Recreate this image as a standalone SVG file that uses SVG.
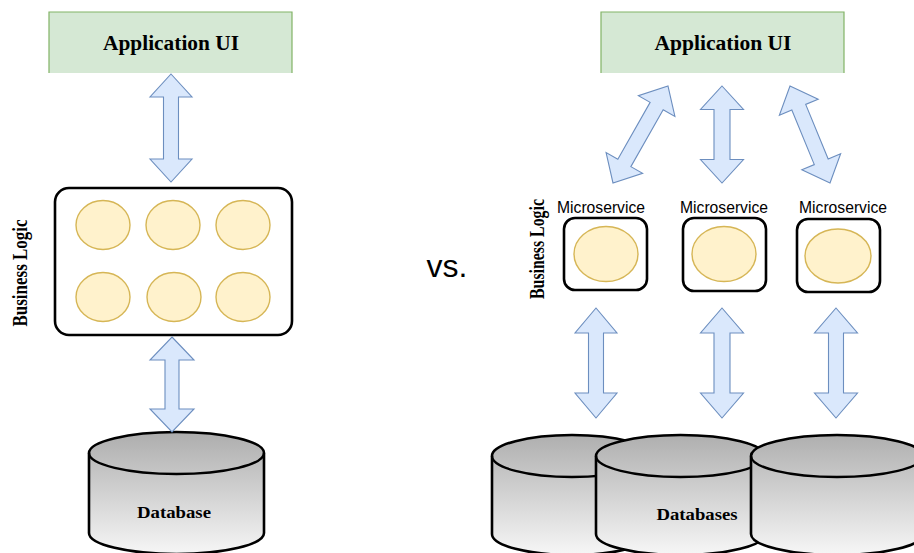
<svg xmlns="http://www.w3.org/2000/svg" width="914" height="553" viewBox="0 0 914 553">
  <style>
    .ui { fill: #d5e8d4; }
    .ui-edge { fill: none; stroke: #82b366; stroke-width: 1.2; }
    .title { font-family: "Liberation Serif", "Times New Roman", serif; font-weight: bold; fill: #000; text-anchor: middle; }
    .sans { font-family: "Liberation Sans", Arial, sans-serif; fill: #000; text-anchor: middle; }
    .frame { fill: #fff; stroke: #000; stroke-width: 2.6; }
    .svc { fill: #fff2cc; stroke: #d6b656; stroke-width: 1.4; }
    .arrow { fill: #dae8fc; stroke: #6c8ebf; stroke-width: 1.1; stroke-linejoin: miter; }
    .cyl { fill: url(#dbFill); stroke: #000; stroke-width: 2.6; }
    .rim { fill: none; stroke: #000; stroke-width: 2.4; }
  </style>
  <defs>
    <linearGradient id="dbFill" gradientUnits="userSpaceOnUse" x1="0" y1="432" x2="0" y2="556">
      <stop offset="0" stop-color="#adadad"/>
      <stop offset="1" stop-color="#f7f7f7"/>
    </linearGradient>
  </defs>

  <rect width="914" height="553" fill="#fff"/>

  <!-- ===== Monolith (left) ===== -->
  <g id="ui-left">
    <rect class="ui" x="49" y="12" width="243" height="61"/>
    <path class="ui-edge" d="M49,73 V12 H292 V73"/>
    <text class="title" x="171" y="50" font-size="20" textLength="136" lengthAdjust="spacingAndGlyphs">Application UI</text>
  </g>

  <g id="logic-left">
    <rect class="frame" x="55" y="188" width="237" height="147" rx="14" ry="14"/>
    <ellipse class="svc" cx="103" cy="225" rx="27" ry="24.5"/>
    <ellipse class="svc" cx="173" cy="225" rx="27" ry="24.5"/>
    <ellipse class="svc" cx="243" cy="225" rx="27" ry="24.5"/>
    <ellipse class="svc" cx="103" cy="297" rx="27" ry="24.5"/>
    <ellipse class="svc" cx="174" cy="297" rx="27" ry="24.5"/>
    <ellipse class="svc" cx="243" cy="297" rx="27" ry="24.5"/>
  </g>
  <text class="title" font-size="21" textLength="107" lengthAdjust="spacingAndGlyphs" transform="translate(27,273) rotate(-90)">Business Logic</text>

  <g id="db-left">
    <path class="cyl" d="M89,453 A87.5,21 0 0 1 264,453 V533 A87.5,21 0 0 1 89,533 Z"/>
    <path class="rim" d="M89,453 A87.5,21 0 0 0 264,453"/>
    <text class="title" x="174" y="518" font-size="17" textLength="74" lengthAdjust="spacingAndGlyphs">Database</text>
  </g>

  <text class="sans" x="447" y="277" font-size="32">vs.</text>

  <!-- ===== Microservices (right) ===== -->
  <g id="ui-right">
    <rect class="ui" x="601" y="12" width="243" height="61"/>
    <path class="ui-edge" d="M601,73 V12 H844 V73"/>
    <text class="title" x="723" y="50" font-size="20" textLength="137" lengthAdjust="spacingAndGlyphs">Application UI</text>
  </g>

  <text class="title" font-size="20" textLength="100" lengthAdjust="spacingAndGlyphs" transform="translate(544,249) rotate(-90)">Business Logic</text>

  <g id="svc-1">
    <text class="sans" x="601" y="213" font-size="16" textLength="88" lengthAdjust="spacingAndGlyphs">Microservice</text>
    <rect class="frame" x="564" y="218" width="83" height="72" rx="11" ry="11"/>
    <ellipse class="svc" cx="606" cy="254" rx="32" ry="27.5"/>
  </g>
  <g id="svc-2">
    <text class="sans" x="724" y="213" font-size="16" textLength="88" lengthAdjust="spacingAndGlyphs">Microservice</text>
    <rect class="frame" x="683" y="218" width="83" height="73" rx="11" ry="11"/>
    <ellipse class="svc" cx="724" cy="254" rx="32" ry="27.5"/>
  </g>
  <g id="svc-3">
    <text class="sans" x="843" y="213" font-size="16" textLength="88" lengthAdjust="spacingAndGlyphs">Microservice</text>
    <rect class="frame" x="797" y="219" width="83" height="73" rx="11" ry="11"/>
    <ellipse class="svc" cx="838" cy="256" rx="33" ry="27"/>
  </g>

  <g id="db-a">
    <path class="cyl" d="M492,456 A80,21 0 0 1 652,456 V534 A80,21 0 0 1 492,534 Z"/>
    <path class="rim" d="M492,456 A80,21 0 0 0 652,456"/>
  </g>
  <g id="db-b">
    <path class="cyl" d="M596,456 A84.5,21 0 0 1 765,456 V534 A84.5,21 0 0 1 596,534 Z"/>
    <path class="rim" d="M596,456 A84.5,21 0 0 0 765,456"/>
    <text class="title" x="697" y="520" font-size="17" textLength="81" lengthAdjust="spacingAndGlyphs">Databases</text>
  </g>
  <g id="db-c">
    <path class="cyl" d="M751,456 A86,21 0 0 1 923,456 V534 A86,21 0 0 1 751,534 Z"/>
    <path class="rim" d="M751,456 A86,21 0 0 0 923,456"/>
  </g>

  <!-- ===== Connectors: double-headed block arrows ===== -->
  <g id="connectors">
    <!-- UI to business logic, monolith -->
    <path class="arrow" transform="translate(171,128)" d="M0,-54 L21,-31 L7.5,-31 L7.5,31 L21,31 L0,54 L-21,31 L-7.5,31 L-7.5,-31 L-21,-31 Z"/>
    <!-- business logic to database, monolith -->
    <path class="arrow" transform="translate(172,384.5)" d="M0,-47.5 L22,-24.5 L7,-24.5 L7,24.5 L22,24.5 L0,47.5 L-22,24.5 L-7,24.5 L-7,-24.5 L-22,-24.5 Z"/>

    <!-- UI to each microservice -->
    <path class="arrow" transform="translate(640.5,134.5) rotate(29.6)" d="M0,-55.7 L21,-32.7 L7.5,-32.7 L7.5,32.7 L21,32.7 L0,55.7 L-21,32.7 L-7.5,32.7 L-7.5,-32.7 L-21,-32.7 Z"/>
    <path class="arrow" transform="translate(722,134.5)" d="M0,-48.5 L21.5,-25 L8,-25 L8,25 L21.5,25 L0,48.5 L-21.5,25 L-8,25 L-8,-25 L-21.5,-25 Z"/>
    <path class="arrow" transform="translate(810,134.5) rotate(-22.4)" d="M0,-52.5 L21,-29.5 L7.5,-29.5 L7.5,29.5 L21,29.5 L0,52.5 L-21,29.5 L-7.5,29.5 L-7.5,-29.5 L-21,-29.5 Z"/>

    <!-- each microservice to its own database -->
    <path class="arrow" transform="translate(596,363)" d="M0,-55 L21,-30 L7.5,-30 L7.5,30 L21,30 L0,55 L-21,30 L-7.5,30 L-7.5,-30 L-21,-30 Z"/>
    <path class="arrow" transform="translate(722,363)" d="M0,-55 L21.5,-30 L8,-30 L8,30 L21.5,30 L0,55 L-21.5,30 L-8,30 L-8,-30 L-21.5,-30 Z"/>
    <path class="arrow" transform="translate(836,363)" d="M0,-55 L21.5,-30 L7.5,-30 L7.5,30 L21.5,30 L0,55 L-21.5,30 L-7.5,30 L-7.5,-30 L-21.5,-30 Z"/>
  </g>
</svg>
